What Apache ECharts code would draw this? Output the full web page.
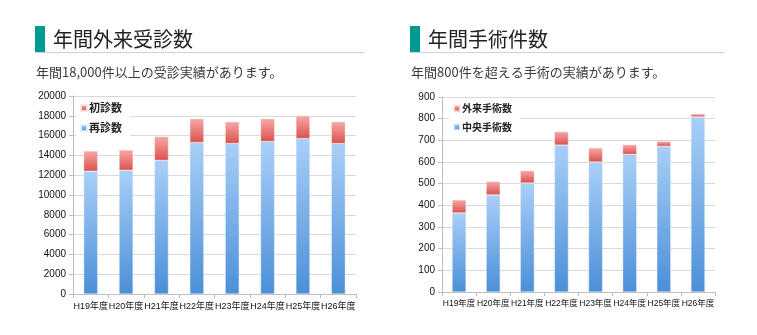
<!DOCTYPE html>
<html><head><meta charset="utf-8">
<script src="https://cdn.jsdelivr.net/npm/echarts@6/dist/echarts.min.js"></script>
<style>html,body{margin:0;padding:0;background:#fff}#c{width:757px;height:335px}</style>
</head><body><div id="c"></div>
<script>
const categories = ['H19年度','H20年度','H21年度','H22年度','H23年度','H24年度','H25年度','H26年度'];
const revisits = [12400, 12500, 13500, 15300, 15200, 15400, 15700, 15200];   // 再診数
const firstVisits = [2050, 2050, 2400, 2400, 2200, 2300, 2300, 2200];       // 初診数
const centralSurg = [365, 448, 503, 678, 600, 635, 672, 808];               // 中央手術数
const outpatientSurg = [60, 62, 57, 62, 65, 45, 23, 14];                    // 外来手術数
const leftTicks = {min: 0, max: 20000, interval: 2000};
const rightTicks = {min: 0, max: 900, interval: 100};
const titles = ['年間外来受診数', '年間手術件数'];
const subtitles = ['年間18,000件以上の受診実績があります。', '年間800件を超える手術の実績があります。'];

const JP = '"Noto Sans CJK JP", "Noto Sans", sans-serif';
const blueGrad = new echarts.graphic.LinearGradient(0,0,0,1,[{offset:0,color:'#a9cff8'},{offset:1,color:'#4b8fd7'}]);
const redGrad = new echarts.graphic.LinearGradient(0,0,0,1,[{offset:0,color:'#f8a8a6'},{offset:1,color:'#d9514d'}]);
const teal = '#009a93';

function header(x, lineEnd, title, sub) {
  return [
    {type:'rect', shape:{x:x, y:26, width:10, height:26}, style:{fill:teal}},
    {type:'line', shape:{x1:x, y1:52.5, x2:lineEnd, y2:52.5}, style:{stroke:'#d2d2d2', lineWidth:1}},
    {type:'text', x:x+18, y:39, style:{text:title, font:'20px ' + JP, fill:'#222', textVerticalAlign:'middle'}},
    {type:'text', x:x+1, y:72, style:{text:sub, font:'13px ' + JP, fill:'#3a3a3a', textVerticalAlign:'middle'}}
  ];
}

function xAx(gi, fs, margin) {
  return {type:'category', gridIndex:gi, data:categories,
    axisLine:{lineStyle:{color:'#bdbdbd'}},
    axisTick:{show:true, length:4, lineStyle:{color:'#bdbdbd'}},
    axisLabel:{fontSize:fs, color:'#111', margin:margin, fontFamily:'"Liberation Sans", "Noto Sans CJK JP", sans-serif', interval:0}};
}
function yAx(gi, t) {
  return {type:'value', gridIndex:gi, min:t.min, max:t.max, interval:t.interval,
    axisLine:{show:true, lineStyle:{color:'#bdbdbd'}},
    axisTick:{show:true, length:4, lineStyle:{color:'#bdbdbd'}},
    splitLine:{lineStyle:{color:'#d9d9d9', width:1}},
    axisLabel:{fontSize:10, color:'#111', margin:7, fontFamily:'"Liberation Sans", Arial, sans-serif',
      formatter: v => String(v)}};
}

const chart = echarts.init(document.getElementById('c'), null, {renderer:'canvas'});
chart.setOption({
  animation:false,
  graphic: [].concat(header(35, 365, titles[0], subtitles[0]), header(410, 725, titles[1], subtitles[1])),
  grid:[
    {left:73, right:401, top:96, bottom:41},
    {left:442, right:42, top:97, bottom:43}
  ],
  xAxis:[xAx(0, 9, 8), xAx(1, 8.5, 7)],
  yAxis:[yAx(0, leftTicks), yAx(1, rightTicks)],
  legend:[
    {data:['初診数','再診数'], orient:'vertical', left:76, top:99, padding:[2,8,2,4],
     backgroundColor:'#fff', itemWidth:6, itemHeight:6, itemGap:6, icon:'rect',
     textStyle:{fontSize:11, fontWeight:'bold', color:'#222', lineHeight:14, fontFamily:JP, padding:[0,0,0,-3]}},
    {data:['外来手術数','中央手術数'], orient:'vertical', left:449, top:100, padding:[2,8,2,4],
     backgroundColor:'#fff', itemWidth:6, itemHeight:6, itemGap:5.5, icon:'rect',
     textStyle:{fontSize:10, fontWeight:'bold', color:'#222', lineHeight:13, fontFamily:JP, padding:[0,0,0,-3]}}
  ],
  series:[
    {name:'再診数', type:'bar', stack:'a', xAxisIndex:0, yAxisIndex:0, data:revisits, barWidth:14,
     itemStyle:{color:blueGrad, borderColor:'rgba(230,240,252,0.8)', borderWidth:0.5}},
    {name:'初診数', type:'bar', stack:'a', xAxisIndex:0, yAxisIndex:0, data:firstVisits, barWidth:14,
     itemStyle:{color:redGrad, borderColor:'rgba(252,230,230,0.8)', borderWidth:0.5}},
    {name:'中央手術数', type:'bar', stack:'b', xAxisIndex:1, yAxisIndex:1, data:centralSurg, barWidth:14,
     itemStyle:{color:blueGrad, borderColor:'rgba(230,240,252,0.8)', borderWidth:0.5}},
    {name:'外来手術数', type:'bar', stack:'b', xAxisIndex:1, yAxisIndex:1, data:outpatientSurg, barWidth:14,
     itemStyle:{color:redGrad, borderColor:'rgba(252,230,230,0.8)', borderWidth:0.5}}
  ]
});
</script></body></html>
